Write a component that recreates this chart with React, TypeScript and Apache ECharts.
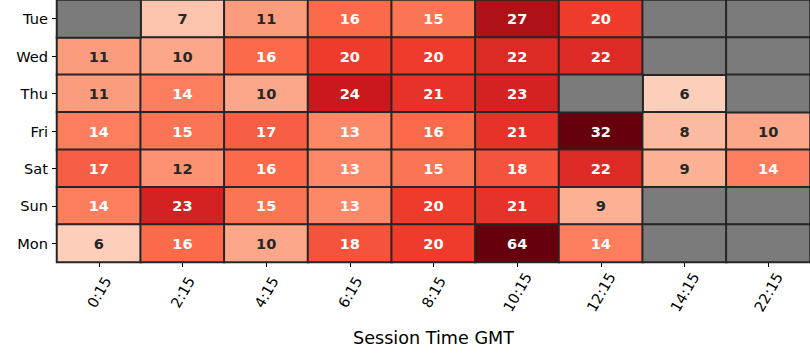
import React, { useEffect, useRef } from "react";
import * as echarts from "echarts";

const days = ["Tue", "Wed", "Thu", "Fri", "Sat", "Sun", "Mon"];
const times = ["0:15", "2:15", "4:15", "6:15", "8:15", "10:15", "12:15", "14:15", "22:15"];

const tue = [null, 7, 11, 16, 15, 27, 20, null, null];
const wed = [11, 10, 16, 20, 20, 22, 22, null, null];
const thu = [11, 14, 10, 24, 21, 23, null, 6, null];
const fri = [14, 15, 17, 13, 16, 21, 32, 8, 10];
const sat = [17, 12, 16, 13, 15, 18, 22, 9, 14];
const sun = [14, 23, 15, 13, 20, 21, 9, null, null];
const mon = [6, 16, 10, 18, 20, 64, 14, null, null];

const rows: (number | null)[][] = [tue, wed, thu, fri, sat, sun, mon];

const reds = ["#fff5f0", "#fee0d2", "#fcbba1", "#fc9272", "#fb6a4a", "#ef3b2c", "#cb181d", "#a50f15", "#67000d"];

const FONT = "DejaVu Sans";

export default function App() {
  const ref = useRef<HTMLDivElement>(null);
  useEffect(() => {
    if (!ref.current) return;
    const chart = echarts.init(ref.current, undefined, { renderer: "svg" });
    const values: any[] = [];
    const missing: any[] = [];
    rows.forEach((row, yi) => {
      row.forEach((v, xi) => {
        if (v === null) {
          missing.push([xi, yi, 0]);
        } else {
          values.push({
            value: [xi, yi, v],
            label: { color: v >= 13 ? "#ffffff" : "#262626" },
          });
        }
      });
    });
    chart.setOption({
      animation: false,
      grid: { left: 57, right: 0, top: 0, bottom: 98 },
      xAxis: {
        type: "category",
        data: times,
        name: "Session Time GMT",
        nameLocation: "middle",
        nameGap: 67,
        nameTextStyle: { fontSize: 17.6, color: "#000", fontFamily: FONT },
        axisLine: { show: false },
        axisTick: { show: true, alignWithLabel: true, length: 5, lineStyle: { color: "#000", width: 1 } },
        axisLabel: {
          rotate: 60,
          align: "center",
          verticalAlign: "middle",
          margin: 30,
          fontSize: 14.6,
          color: "#000",
          fontFamily: FONT,
        },
        splitLine: { show: false },
        splitArea: { show: false },
      },
      yAxis: {
        type: "category",
        data: days,
        inverse: true,
        axisLine: { show: false },
        axisTick: { show: true, alignWithLabel: true, length: 5, lineStyle: { color: "#000", width: 1 } },
        axisLabel: { margin: 9, fontSize: 14.6, color: "#000", fontFamily: FONT },
        splitLine: { show: false },
        splitArea: { show: false },
      },
      visualMap: [
        {
          show: false,
          type: "continuous",
          min: 0,
          max: 32,
          seriesIndex: 0,
          dimension: 2,
          inRange: { color: reds },
        },
        {
          show: false,
          type: "continuous",
          min: 0,
          max: 1,
          seriesIndex: 1,
          dimension: 2,
          inRange: { color: ["#7b7b7b", "#7b7b7b"] },
        },
      ],
      series: [
        {
          type: "heatmap",
          data: values,
          itemStyle: { borderColor: "#262626", borderWidth: 2 },
          label: {
            show: true,
            fontSize: 14.6,
            fontWeight: "bold",
            fontFamily: FONT,
            formatter: (p: any) => String(p.value[2]),
          },
          emphasis: { disabled: true },
        },
        {
          type: "heatmap",
          data: missing,
          itemStyle: { borderColor: "#262626", borderWidth: 2 },
          label: { show: false },
          emphasis: { disabled: true },
        },
      ],
    });
    return () => chart.dispose();
  }, []);
  return (
    <div
      ref={ref}
      style={{ position: "absolute", left: 0, top: 0, width: 810, height: 360, background: "#fff" }}
    />
  );
}
